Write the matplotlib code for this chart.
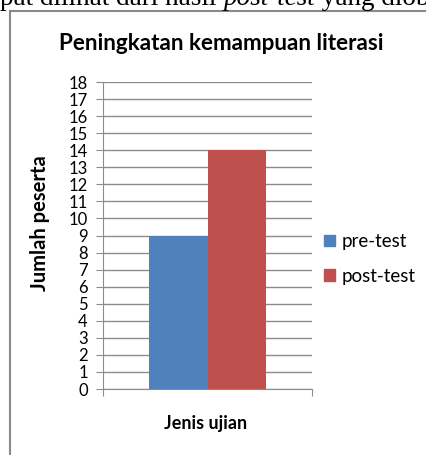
import matplotlib.pyplot as plt
from matplotlib.lines import Line2D
from matplotlib.patches import Patch

plt.rcParams['font.family'] = ['Lato', 'DejaVu Sans']

# data
series = ['pre-test', 'post-test']
values = [9, 14]
colors = ['#4F81BD', '#C0504D']
yticks = list(range(0, 19))

W, H = 427, 455
fig = plt.figure(figsize=(W / 100, H / 100), dpi=100)


def fx(px):
    return px / W


def fy(py):
    return 1 - py / H


# cropped line of body text above the chart, pieces chained one after another
renderer = fig.canvas.get_renderer()
pieces = [("pat dilihat dari hasil ", 'normal'), ("post-test", 'italic'), (" yang diob", 'normal')]
x = 0
for txt, st in pieces:
    t = fig.text(fx(x), fy(5), txt, family='Liberation Serif', style=st,
                 fontsize=19.5, va='baseline', ha='left')
    x += t.get_window_extent(renderer).width

# chart frame
fig.add_artist(Line2D([fx(10), 1], [fy(11), fy(11)], color='#8a8a8a', lw=1.5))
fig.add_artist(Line2D([fx(10), fx(10)], [fy(11), 0], color='#8a8a8a', lw=1.5))

ax = fig.add_axes([fx(103), fy(389), fx(312) - fx(103), fy(82) - fy(389)])

bw = 0.28
offsets = [-bw / 2, bw / 2]
for name, v, c, off in zip(series, values, colors, offsets):
    ax.bar(off, v, width=bw, color=c, label=name, zorder=3)

ax.set_xlim(-0.5, 0.5)
ax.set_ylim(0, 18)
ax.set_yticks(yticks)
ax.set_xticks([-0.5, 0.5])
ax.set_xticklabels([])
ax.yaxis.grid(True, color='#8c8c8c', lw=1.0, zorder=0)
ax.tick_params(axis='y', length=5, color='#8c8c8c', labelsize=12, pad=6)
ax.tick_params(axis='x', length=5, color='#8c8c8c')
for s in ['top', 'right']:
    ax.spines[s].set_visible(False)
for s in ['left', 'bottom']:
    ax.spines[s].set_color('#8c8c8c')

fig.text(fx(221), fy(43), "Peningkatan kemampuan literasi", fontsize=16.2,
         fontweight='bold', ha='center', va='center')
fig.text(fx(40), fy(223), "Jumlah peserta", fontsize=14.5, fontweight='bold',
         rotation=90, ha='center', va='center')
fig.text(fx(206), fy(423), "Jenis ujian", fontsize=13, fontweight='bold',
         ha='center', va='center')

handles = [Patch(color=c) for c in colors]
fig.legend(handles, series, loc='center left', bbox_to_anchor=(fx(316), fy(259)),
           frameon=False, fontsize=13.5, handlelength=0.6, handleheight=0.6,
           handletextpad=0.35, labelspacing=0.95, borderaxespad=0)

fig.savefig('out.png', dpi=100)
